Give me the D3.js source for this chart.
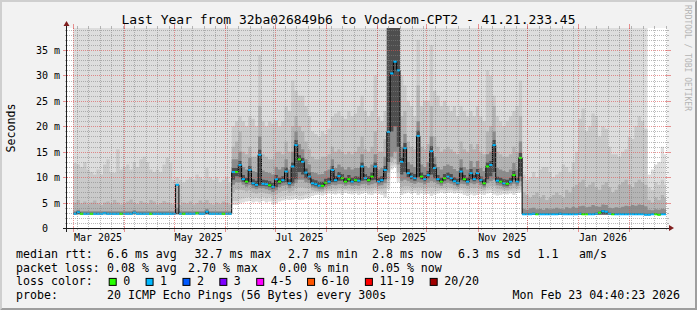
<!DOCTYPE html>
<html>
<head>
<meta charset="utf-8">
<script src="https://cdn.jsdelivr.net/npm/d3@7"></script>
<style>
  html, body { margin: 0; padding: 0; background: #f2f2f2; }
  svg { display: block; }
  text { font-family: "DejaVu Sans Mono", monospace; }
</style>
</head>
<body>
<div id="chart"></div>
<script>
"use strict";

// ---- data: one value per 2-day bin, first bin starts 1 Mar 2025 (180 bins) ----
const firstBin = new Date(2025, 2, 1);
const binDays = 2;

// median rtt in ms
const medianMs = [
  // Mar - May
  2.8,3.1,2.8,2.8,2.8,2.8,2.8,2.8,2.8,2.9,
  2.8,2.8,2.8,2.8,2.8,2.8,2.8,2.8,3.0,2.8,
  2.8,2.8,2.8,2.8,2.8,2.8,2.8,2.8,2.8,2.8,
  2.8,8.5,2.8,2.8,2.8,2.8,2.8,2.9,2.8,2.8,
  3.2,2.8,2.8,2.8,2.8,2.8,2.8,2.8,
  // Jun - Nov
  11.0,11.0,12.4,9.6,9.1,11.4,8.8,8.5,14.4,8.7,
  8.6,8.4,8.1,9.6,9.1,9.4,11.1,8.8,12.1,16.3,
  13.5,13.0,10.9,10.1,8.8,8.6,8.3,8.3,8.9,9.1,
  11.4,9.4,10.2,9.8,9.1,9.6,9.1,9.4,9.3,12.1,
  9.8,9.4,10.1,12.1,9.1,9.4,11.4,18.9,30.4,32.7,
  31.0,13.0,15.7,10.8,10.1,9.8,18.1,10.1,9.6,10.4,
  15.1,11.8,9.6,9.1,9.8,10.1,9.8,9.2,8.9,11.1,
  9.6,9.1,10.8,9.6,10.8,9.4,8.8,12.1,12.4,16.3,
  9.3,9.1,8.8,8.7,9.1,10.4,9.1,13.8,
  // Dec - Feb
  2.7,2.7,2.7,2.8,2.7,2.7,2.7,2.7,2.7,2.7,
  2.7,2.8,2.7,2.7,2.7,2.7,2.7,2.8,2.7,2.7,
  2.7,2.7,2.8,3.0,3.3,3.2,2.8,2.7,2.7,2.7,
  2.7,2.7,2.7,2.7,2.7,2.7,2.7,2.6,2.6,2.7,
  2.7,2.6,2.7,2.7
];

// pings lost (of 20) per bin
const lossPings = [
  1,1,0,1,1,0,1,1,1,1,
  1,1,1,1,0,1,1,1,1,1,
  1,1,1,0,1,1,1,1,1,1,
  1,1,1,0,1,1,1,0,1,1,
  1,1,1,1,1,0,1,1,
  1,0,1,1,0,1,1,1,1,1,
  1,0,1,1,0,1,1,1,1,1,
  0,1,1,1,1,1,1,0,0,1,
  1,1,1,0,0,0,1,0,1,1,
  1,0,0,1,1,1,1,1,1,1,
  1,1,1,1,1,1,1,0,1,1,
  1,1,1,0,0,1,1,1,1,1,
  0,1,1,1,1,1,0,0,1,1,
  1,0,1,0,1,0,1,0,
  1,1,1,1,0,1,1,1,1,1,
  1,1,1,1,1,1,1,1,0,0,
  1,1,1,0,1,1,1,0,1,1,
  1,1,1,1,1,1,1,1,1,1,
  0,0,1,1
];

// smoke: ping 1 / ping 20 (slowest values run off the top of the chart)
const pingMax = [
  40,40,40,40,40,40,40,40,40,40,
  40,40,40,40,40,40,40,40,40,40,
  40,40,40,40,40,40,40,40,40,40,
  40,40,40,40,40,40,40,40,40,40,
  40,40,40,40,40,40,40,40,
  40,40,40,40,40,40,40,40,40,40,
  40,40,40,40,40,40,40,40,40,40,
  40,40,40,40,40,40,40,40,40,40,
  40,40,40,40,40,40,40,40,40,40,
  40,40,40,40,40,40,40,40,40,40,
  40,40,40,40,40,40,40,40,40,40,
  40,40,40,40,40,40,40,40,40,40,
  40,40,40,40,40,40,40,40,40,40,
  40,40,40,40,40,40,40,40,
  40,40,40,40,40,40,40,40,40,40,
  40,40,40,40,40,40,40,40,40,40,
  40,40,40,40,40,40,40,40,40,40,
  40,40,40,40,40,40,40,40,10.5,11.5,
  12.5,13.0,16.0,14.5
];
const pingMin = [
  2.6,2.6,2.6,2.6,2.6,2.6,2.6,2.6,2.6,2.6,
  2.6,2.6,2.6,2.6,2.6,2.6,2.6,2.6,2.6,2.6,
  2.6,2.6,2.6,2.6,2.6,2.6,2.6,2.6,2.6,2.6,
  2.6,2.6,2.6,2.6,2.6,2.6,2.6,2.6,2.6,2.6,
  2.6,2.6,2.6,2.6,2.6,2.6,2.6,2.6,
  4.5,4.5,4.8,5.0,5.2,5.3,5.0,5.2,5.0,5.3,
  5.0,5.2,4.6,4.8,5.2,5.4,5.6,5.5,5.6,5.8,
  5.5,5.6,5.8,6.0,6.3,6.5,6.6,6.4,6.6,6.8,
  6.7,6.6,6.8,6.5,6.9,6.7,6.6,6.8,6.5,6.7,
  6.9,6.6,6.5,6.8,6.7,6.5,6.0,7.5,11.5,12.0,
  9.0,6.5,6.8,7.0,6.7,6.9,6.5,6.8,6.6,6.7,
  6.3,6.6,6.8,7.0,6.8,6.9,7.0,6.8,6.9,6.8,
  6.5,6.3,6.6,6.4,6.5,6.7,6.5,6.8,6.9,6.6,
  6.4,6.5,6.7,6.6,6.8,6.5,6.9,7.0,
  2.6,2.6,2.6,2.6,2.6,2.6,2.6,2.6,2.6,2.6,
  2.6,2.6,2.6,2.6,2.6,2.6,2.6,2.6,2.6,2.6,
  2.6,2.6,2.6,2.6,2.6,2.6,2.6,2.6,2.6,2.6,
  2.6,2.6,2.6,2.6,2.6,2.6,2.6,2.5,2.5,2.6,
  2.6,2.5,2.6,2.6
];

// smoke: ping 2 / ping 19
const ping2Hi = [
  12.8,12.5,12.0,13.0,11.5,11.0,10.5,11.5,10.5,12.5,
  13.5,11.0,10.8,15.5,11.5,12.0,12.5,11.5,13.0,12.0,
  13.5,14.0,13.0,11.5,11.0,11.5,11.0,12.5,13.8,13.0,
  9.5,10.0,9.5,9.0,9.5,10.0,9.5,10.5,10.0,9.5,
  11.8,10.0,9.5,10.0,9.0,9.5,10.0,9.0,
  20.0,21.0,22.0,21.0,20.0,22.0,21.5,20.0,34.0,21.0,
  20.0,21.0,20.5,21.0,20.0,21.0,24.0,23.0,29.0,27.0,
  26.0,26.0,24.0,22.0,19.0,18.5,18.0,19.0,18.5,19.5,
  22.0,22.5,23.0,22.0,21.5,23.0,22.0,22.5,24.0,26.0,
  23.0,22.0,23.0,30.0,22.0,21.0,23.0,40,40,40,
  40,30.0,28.0,25.0,24.0,22.0,37.0,24.0,25.0,25.0,
  36.0,27.0,26.0,24.0,25.0,24.0,23.0,24.0,22.0,24.0,
  23.0,22.0,23.0,22.0,24.0,22.0,21.0,31.0,30.0,26.0,
  22.0,21.0,20.0,21.0,22.0,23.0,24.0,29.0,
  10.5,9.5,10.0,11.0,10.0,11.5,12.0,12.0,11.0,10.0,
  10.5,11.0,12.5,12.0,11.0,13.0,15.0,21.5,23.5,19.0,
  20.0,22.5,22.0,18.0,20.0,19.5,16.0,14.5,14.5,14.0,
  15.0,15.5,18.0,17.5,20.0,22.0,21.0,19.5,8.0,7.5,
  9.0,8.5,9.5,8.5
];
const ping2Lo = [
  2.7,2.7,2.7,2.7,2.7,2.7,2.7,2.7,2.7,2.7,
  2.7,2.7,2.7,2.7,2.7,2.7,2.7,2.7,2.7,2.7,
  2.7,2.7,2.7,2.7,2.7,2.7,2.7,2.7,2.7,2.7,
  2.7,2.7,2.7,2.7,2.7,2.7,2.7,2.7,2.7,2.7,
  2.7,2.7,2.7,2.7,2.7,2.7,2.7,2.7,
  5.3,5.3,5.6,5.8,6.0,6.1,5.8,6.0,5.8,6.1,
  5.8,6.0,5.4,5.6,6.0,6.2,6.4,6.3,6.4,6.6,
  6.3,6.4,6.6,6.8,7.0,7.1,7.1,7.0,7.2,7.3,
  7.3,7.2,7.4,7.2,7.4,7.3,7.2,7.3,7.2,7.3,
  7.4,7.2,7.2,7.4,7.3,7.2,6.8,8.3,12.3,12.5,
  9.8,7.2,7.4,7.5,7.3,7.4,7.2,7.4,7.2,7.3,
  7.0,7.2,7.3,7.5,7.4,7.4,7.5,7.3,7.4,7.4,
  7.2,7.0,7.2,7.1,7.2,7.3,7.2,7.4,7.5,7.3,
  7.1,7.2,7.3,7.2,7.3,7.2,7.4,7.5,
  2.6,2.6,2.6,2.6,2.6,2.6,2.6,2.6,2.6,2.6,
  2.6,2.6,2.6,2.6,2.6,2.6,2.6,2.6,2.6,2.6,
  2.6,2.6,2.6,2.6,2.6,2.6,2.6,2.6,2.6,2.6,
  2.6,2.6,2.6,2.6,2.6,2.6,2.6,2.6,2.6,2.6,
  2.6,2.6,2.6,2.6
];

// smoke: ping 4 / ping 17
const ping3Hi = [
  5.0,5.5,4.8,5.2,4.6,5.0,5.4,4.8,4.5,5.0,
  5.2,4.8,5.5,5.0,4.6,4.8,5.2,5.6,5.0,4.7,
  5.3,5.0,4.8,5.5,5.2,4.6,4.9,5.3,5.0,4.8,
  4.6,8.6,4.5,5.0,4.8,5.2,4.6,4.9,5.4,5.0,
  5.5,4.8,4.6,5.0,4.7,5.2,4.9,4.6,
  16.0,17.0,19.0,15.0,14.5,16.0,14.0,14.0,24.0,14.5,
  14.0,13.5,13.5,15.0,15.0,14.5,17.0,15.0,20.0,22.0,
  20.0,19.0,17.0,15.5,14.0,13.5,13.5,14.0,14.0,14.5,
  16.0,15.0,15.5,15.0,14.5,15.0,14.5,15.0,16.0,18.0,
  15.5,15.0,16.0,19.0,15.0,15.0,17.5,40,40,40,
  40,22.0,23.0,17.0,16.0,15.5,28.0,16.0,15.5,16.5,
  24.0,18.0,16.0,15.0,15.5,16.0,15.5,15.0,14.5,17.0,
  15.5,15.0,16.5,15.5,16.5,15.0,14.5,19.0,20.0,24.0,
  15.0,14.5,14.0,14.0,14.5,16.0,15.0,22.0,
  7.0,6.5,6.0,6.5,7.0,6.0,6.5,5.5,6.0,6.5,
  7.0,6.5,6.0,7.5,7.0,8.0,8.5,9.0,9.5,8.0,
  8.5,9.0,8.0,7.5,8.5,9.0,8.0,7.0,7.5,8.5,
  9.0,9.5,8.5,8.0,9.0,9.5,9.0,8.5,5.5,5.0,
  6.0,5.5,6.5,6.0
];
const ping3Lo = [
  2.7,2.7,2.7,2.7,2.7,2.7,2.7,2.7,2.7,2.7,
  2.7,2.7,2.7,2.7,2.7,2.7,2.7,2.7,2.7,2.7,
  2.7,2.7,2.7,2.7,2.7,2.7,2.7,2.7,2.7,2.7,
  2.7,2.7,2.7,2.7,2.7,2.7,2.7,2.7,2.7,2.7,
  2.7,2.7,2.7,2.7,2.7,2.7,2.7,2.7,
  7.0,7.5,7.5,7.4,7.2,7.4,7.0,6.8,7.0,7.0,
  6.8,6.7,6.4,6.6,7.0,7.3,7.4,7.0,7.3,7.8,
  8.0,8.0,7.8,7.8,7.4,7.3,7.2,7.2,7.5,7.6,
  7.8,7.7,7.9,7.8,7.7,7.8,7.6,7.7,7.6,7.9,
  7.9,7.7,7.8,8.0,7.7,7.7,7.8,9.5,13.0,13.5,
  11.0,8.0,8.2,8.2,8.0,7.9,8.0,8.0,7.8,8.0,
  8.0,8.0,7.9,7.8,7.9,8.0,7.9,7.7,7.6,7.9,
  7.8,7.6,7.9,7.8,7.9,7.7,7.5,8.0,8.2,8.2,
  7.7,7.6,7.5,7.4,7.6,7.8,7.7,8.2,
  2.65,2.65,2.65,2.65,2.65,2.65,2.65,2.65,2.65,2.65,
  2.65,2.65,2.65,2.65,2.65,2.65,2.65,2.65,2.65,2.65,
  2.65,2.65,2.65,2.65,2.65,2.65,2.65,2.65,2.65,2.65,
  2.65,2.65,2.65,2.65,2.65,2.65,2.65,2.65,2.65,2.65,
  2.65,2.65,2.65,2.65
];

// smoke: ping 7 / ping 14
const ping4Hi = [
  3.3,3.6,3.3,3.3,3.3,3.3,3.3,3.3,3.3,3.3,
  3.3,3.3,3.3,3.3,3.3,3.3,3.3,3.3,3.5,3.3,
  3.3,3.3,3.3,3.3,3.3,3.3,3.3,3.3,3.3,3.3,
  3.3,4.0,3.3,3.3,3.3,3.3,3.3,3.3,3.3,3.3,
  3.8,3.3,3.3,3.3,3.3,3.3,3.3,3.3,
  13.5,13.5,15.0,12.0,11.5,13.8,11.2,11.0,18.0,11.3,
  11.0,10.8,10.5,12.0,11.5,12.0,13.5,11.5,15.0,19.0,
  16.5,15.5,13.5,12.5,11.0,10.8,10.5,10.6,11.2,11.5,
  13.5,11.8,12.5,12.0,11.5,12.0,11.5,11.8,11.8,14.5,
  12.2,11.8,12.5,14.5,11.5,11.8,14.0,40,40,40,
  40,16.0,18.5,13.0,12.5,12.0,21.0,12.5,12.0,13.0,
  18.0,14.0,12.0,11.5,12.2,12.5,12.2,11.6,11.2,13.5,
  12.0,11.5,13.2,12.0,13.2,11.8,11.2,14.5,15.0,19.0,
  11.8,11.5,11.2,11.0,11.5,12.8,11.5,17.0,
  3.8,3.6,3.9,4.0,3.7,3.8,3.6,3.9,3.7,3.8,
  4.0,3.8,3.7,4.1,3.9,4.2,4.0,4.3,4.4,4.1,
  4.2,4.5,4.3,4.2,4.6,4.5,4.0,3.9,4.1,4.0,
  4.2,4.4,4.3,4.5,4.4,4.6,4.5,4.3,3.6,3.5,
  3.7,3.6,3.8,3.7
];
const ping4Lo = [
  2.7,2.7,2.7,2.7,2.7,2.7,2.7,2.7,2.7,2.7,
  2.7,2.7,2.7,2.7,2.7,2.7,2.7,2.7,2.7,2.7,
  2.7,2.7,2.7,2.7,2.7,2.7,2.7,2.7,2.7,2.7,
  2.7,2.7,2.7,2.7,2.7,2.7,2.7,2.7,2.7,2.7,
  2.7,2.7,2.7,2.7,2.7,2.7,2.7,2.7,
  8.5,9.0,9.0,8.5,8.1,8.4,7.8,7.6,7.8,7.8,
  7.6,7.4,7.1,7.4,8.0,8.3,8.4,7.8,8.2,8.8,
  9.5,9.5,9.0,8.8,8.0,7.8,7.6,7.6,8.0,8.2,
  8.5,8.4,8.6,8.6,8.3,8.5,8.3,8.4,8.3,8.6,
  8.7,8.4,8.6,8.8,8.3,8.4,8.8,11.0,14.0,15.0,
  12.5,9.2,9.5,9.2,8.9,8.7,9.0,8.9,8.6,8.9,
  9.2,9.0,8.6,8.3,8.7,8.9,8.7,8.4,8.1,8.7,
  8.6,8.3,8.8,8.6,8.8,8.4,8.0,8.8,9.2,9.5,
  8.4,8.3,8.0,7.9,8.3,8.7,8.3,9.2,
  2.65,2.65,2.65,2.65,2.65,2.65,2.65,2.65,2.65,2.65,
  2.65,2.65,2.65,2.65,2.65,2.65,2.65,2.65,2.65,2.65,
  2.65,2.65,2.65,2.65,2.65,2.65,2.65,2.65,2.65,2.65,
  2.65,2.65,2.65,2.65,2.65,2.65,2.65,2.65,2.65,2.65,
  2.65,2.65,2.65,2.65
];

// smoke: ping 9 / ping 12
const ping5Hi = [
  3.0,3.3,3.0,3.0,3.0,3.0,3.0,3.0,3.0,3.05,
  3.0,3.0,3.0,3.0,3.0,3.0,3.0,3.0,3.2,3.0,
  3.0,3.0,3.0,3.0,3.0,3.0,3.0,3.0,3.0,3.0,
  3.0,3.0,3.0,3.0,3.0,3.0,3.0,3.05,3.0,3.0,
  3.4,3.0,3.0,3.0,3.0,3.0,3.0,3.0,
  11.8,11.8,13.2,10.4,9.9,12.2,9.6,9.3,15.4,9.5,
  9.4,9.2,8.9,10.4,9.9,10.2,11.9,9.6,12.9,17.3,
  14.3,13.8,11.7,10.9,9.6,9.4,9.1,9.1,9.7,9.9,
  12.2,10.2,11.0,10.6,9.9,10.4,9.9,10.2,10.1,12.9,
  10.6,10.2,10.9,12.9,9.9,10.2,12.2,40,40,40,
  40,13.8,16.7,11.6,10.9,10.6,19.1,10.9,10.4,11.2,
  16.1,12.6,10.4,9.9,10.6,10.9,10.6,10.0,9.7,11.9,
  10.4,9.9,11.6,10.4,11.6,10.2,9.6,12.9,13.2,17.3,
  10.1,9.9,9.6,9.5,9.9,11.2,9.9,14.8,
  2.9,2.9,2.9,3.0,2.9,2.9,2.9,2.9,2.9,2.9,
  2.9,3.0,2.9,2.9,2.9,2.9,2.9,3.0,2.9,2.9,
  2.9,2.9,3.0,3.2,3.5,3.4,3.0,2.9,2.9,2.9,
  2.9,2.9,2.9,2.9,2.9,2.9,2.9,2.8,2.8,2.9,
  2.9,2.8,2.9,2.9
];
const ping5Lo = [
  2.75,2.75,2.75,2.75,2.75,2.75,2.75,2.75,2.75,2.75,
  2.75,2.75,2.75,2.75,2.75,2.75,2.75,2.75,2.75,2.75,
  2.75,2.75,2.75,2.75,2.75,2.75,2.75,2.75,2.75,2.75,
  2.75,2.75,2.75,2.75,2.75,2.75,2.75,2.75,2.75,2.75,
  2.75,2.75,2.75,2.75,2.75,2.75,2.75,2.75,
  9.5,10.2,10.0,9.1,8.7,9.0,8.4,8.1,8.3,8.3,
  8.2,8.0,7.7,8.0,8.6,8.9,9.0,8.4,8.8,9.6,
  11.0,10.5,9.8,9.5,8.4,8.2,8.0,8.0,8.5,8.7,
  9.0,9.0,9.3,9.3,8.8,9.1,8.8,9.0,8.9,9.3,
  9.4,9.0,9.4,9.5,8.8,9.0,9.6,13.0,19.0,20.0,
  16.0,10.5,11.0,10.0,9.6,9.3,10.0,9.6,9.2,9.8,
  10.5,9.8,9.2,8.8,9.3,9.6,9.3,8.9,8.5,9.4,
  9.2,8.8,9.6,9.2,9.6,9.0,8.4,9.6,10.2,11.0,
  8.9,8.8,8.4,8.3,8.8,9.5,8.8,10.2,
  2.65,2.65,2.65,2.65,2.65,2.65,2.65,2.65,2.65,2.65,
  2.65,2.65,2.65,2.65,2.65,2.65,2.65,2.65,2.65,2.65,
  2.65,2.65,2.65,2.65,2.65,2.65,2.65,2.65,2.65,2.65,
  2.65,2.65,2.65,2.65,2.65,2.65,2.65,2.65,2.65,2.65,
  2.65,2.65,2.65,2.65
];

// axis ticks and labels
const yTicks = [0, 5, 10, 15, 20, 25, 30, 35];
const yTickLabels = ["0", "5 m", "10 m", "15 m", "20 m", "25 m", "30 m", "35 m"];
const xTickMonths = [new Date(2025, 2, 1), new Date(2025, 4, 1), new Date(2025, 6, 1),
                     new Date(2025, 8, 1), new Date(2025, 10, 1), new Date(2026, 0, 1)];
const xTickLabels = ["Mar 2025", "May 2025", "Jul 2025", "Sep 2025", "Nov 2025", "Jan 2026"];

// loss colour legend
const lossThresholds = [0, 1, 2, 3, 5, 10, 19, 20];
const lossLabels = ["0", "1", "2", "3", "4-5", "6-10", "11-19", "20/20"];
const lossColors = ["#26ff00", "#00b8ff", "#0059ff", "#7e00ff", "#ff00ff", "#ff5500", "#ff0000", "#a10000"];

// legend texts
const titleText = "Last Year from 32ba026849b6 to Vodacom-CPT2 - 41.21.233.45";
const rttLegend = ["median rtt:", "6.6 ms avg", "32.7 ms max", "2.7 ms min", "2.8 ms now", "6.3 ms sd", "1.1", "am/s"];
const lossLegend = ["packet loss:", "0.08 % avg", "2.70 % max", "0.00 % min", "0.05 % now"];
const probeLegend = ["probe:", "20 ICMP Echo Pings (56 Bytes) every 300s"];
const stampText = "Mon Feb 23 04:40:23 2026";

// ---- layout ----
const msm = { width: 697, height: 310, left: 67, top: 28, plotW: 600, plotH: 200 };
const tStart = new Date(2025, 1, 25, 4, 20);
const tEnd = new Date(2026, 1, 23, 4, 40, 23);
const smokeColors = ["#dddddd", "#cacaca", "#b4b4b4", "#8c8c8c", "#4e4e4e"];
const gridMinor = "rgba(130,130,130,0.55)";
const gridMajor = "rgba(222,79,79,0.6)";

window.onload = function () {
  const all = [medianMs, lossPings, pingMax, pingMin, ping2Hi, ping2Lo, ping3Hi, ping3Lo, ping4Hi, ping4Lo, ping5Hi, ping5Lo];
  all.forEach((a, i) => { if (a.length !== 180) throw new Error("array " + i + " has " + a.length); });

  const svg = d3.select("#chart").append("svg")
    .attr("width", msm.width)
    .attr("height", msm.height);

  // background + 3d border
  svg.append("rect").attr("width", msm.width).attr("height", msm.height).attr("fill", "#f2f2f2");
  svg.append("path").attr("fill", "#cfcfcf")
    .attr("d", `M0,${msm.height}L2,${msm.height - 2}L2,2L${msm.width - 2},2L${msm.width},0L0,0Z`);
  svg.append("path").attr("fill", "#9e9e9e")
    .attr("d", `M2,${msm.height - 2}L${msm.width - 2},${msm.height - 2}L${msm.width - 2},2L${msm.width},0L${msm.width},${msm.height}L0,${msm.height}Z`);

  // canvas
  svg.append("rect")
    .attr("x", msm.left).attr("y", msm.top)
    .attr("width", msm.plotW).attr("height", msm.plotH)
    .attr("fill", "#ffffff");

  const xScale = d3.scaleTime().domain([tStart, tEnd]).range([msm.left, 666]);
  const yScale = d3.scaleLinear().domain([0, 39.33]).range([msm.top + msm.plotH, msm.top]);

  svg.append("clipPath").attr("id", "plotclip")
    .append("rect").attr("x", msm.left).attr("y", msm.top)
    .attr("width", 666 - msm.left).attr("height", msm.plotH);

  const rows = medianMs.map((m, k) => ({
    t0: d3.timeDay.offset(firstBin, k * binDays),
    t1: d3.timeDay.offset(firstBin, (k + 1) * binDays),
    med: m,
    loss: lossPings[k],
    lo: [pingMin[k], ping2Lo[k], ping3Lo[k], ping4Lo[k], ping5Lo[k]],
    hi: [pingMax[k], ping2Hi[k], ping3Hi[k], ping4Hi[k], ping5Hi[k]]
  }));
  const last = rows[rows.length - 1];
  const stepPts = rows.map(r => ({ t: r.t0, r: r })).concat([{ t: last.t1, r: last }]);

  const gData = svg.append("g").attr("clip-path", "url(#plotclip)");

  // smoke layers, outermost first
  smokeColors.forEach((c, i) => {
    const area = d3.area().curve(d3.curveStepAfter)
      .x(p => xScale(p.t))
      .y0(p => yScale(p.r.lo[i]))
      .y1(p => yScale(p.r.hi[i]));
    gData.append("path").attr("d", area(stepPts)).attr("fill", c);
  });

  // grid (drawn over the smoke)
  const gGrid = svg.append("g").attr("stroke-dasharray", "1,1").attr("stroke-width", 1);
  const snap = v => Math.round(v) + 0.5;
  d3.range(1, 40).filter(v => v % 5 !== 0).forEach(v => {
    const yy = snap(yScale(v));
    if (yy < msm.top) return;
    gGrid.append("line").attr("x1", msm.left).attr("x2", msm.left + msm.plotW)
      .attr("y1", yy).attr("y2", yy).attr("stroke", gridMinor);
  });
  const weeks = d3.timeMonday.range(tStart, tEnd);
  const months = d3.timeMonth.range(tStart, tEnd);
  weeks.forEach(t => {
    const xx = snap(xScale(t));
    gGrid.append("line").attr("x1", xx).attr("x2", xx)
      .attr("y1", msm.top).attr("y2", msm.top + msm.plotH).attr("stroke", gridMinor);
  });
  yTicks.filter(v => v > 0).forEach(v => {
    const yy = snap(yScale(v));
    gGrid.append("line").attr("x1", msm.left).attr("x2", msm.left + msm.plotW)
      .attr("y1", yy).attr("y2", yy).attr("stroke", gridMajor);
  });
  months.forEach(t => {
    const xx = snap(xScale(t));
    gGrid.append("line").attr("x1", xx).attr("x2", xx)
      .attr("y1", msm.top).attr("y2", msm.top + msm.plotH).attr("stroke", gridMajor);
  });

  // little solid stubs outside the canvas
  const gStub = svg.append("g").attr("stroke-width", 1);
  d3.range(1, 40).filter(v => v % 5 !== 0).forEach(v => {
    const yy = snap(yScale(v));
    if (yy < msm.top) return;
    gStub.append("line").attr("x1", msm.left - 2).attr("x2", msm.left).attr("y1", yy).attr("y2", yy).attr("stroke", gridMinor);
    gStub.append("line").attr("x1", msm.left + msm.plotW).attr("x2", msm.left + msm.plotW + 2).attr("y1", yy).attr("y2", yy).attr("stroke", gridMinor);
  });
  yTicks.filter(v => v > 0).forEach(v => {
    const yy = snap(yScale(v));
    gStub.append("line").attr("x1", msm.left - 4).attr("x2", msm.left + 1).attr("y1", yy).attr("y2", yy).attr("stroke", gridMajor);
    gStub.append("line").attr("x1", msm.left + msm.plotW - 1).attr("x2", msm.left + msm.plotW + 4).attr("y1", yy).attr("y2", yy).attr("stroke", gridMajor);
  });
  weeks.forEach(t => {
    const xx = snap(xScale(t));
    gStub.append("line").attr("x1", xx).attr("x2", xx).attr("y1", msm.top + msm.plotH).attr("y2", msm.top + msm.plotH + 2).attr("stroke", gridMinor);
    gStub.append("line").attr("x1", xx).attr("x2", xx).attr("y1", msm.top - 2).attr("y2", msm.top).attr("stroke", gridMinor);
  });
  months.forEach(t => {
    const xx = snap(xScale(t));
    gStub.append("line").attr("x1", xx).attr("x2", xx).attr("y1", msm.top + msm.plotH - 1).attr("y2", msm.top + msm.plotH + 4).attr("stroke", gridMajor);
    gStub.append("line").attr("x1", xx).attr("x2", xx).attr("y1", msm.top - 4).attr("y2", msm.top + 1).attr("stroke", gridMajor);
  });

  // median line: dark steps + loss coloured segments
  const medLine = d3.line().curve(d3.curveStepAfter)
    .x(p => xScale(p.t))
    .y(p => yScale(p.r.med));
  gData.append("path").attr("d", medLine(stepPts))
    .attr("fill", "none").attr("stroke", "#000").attr("stroke-width", 1);

  const bucket = n => {
    for (let i = 0; i < lossThresholds.length; i++) if (n <= lossThresholds[i]) return i;
    return lossThresholds.length - 1;
  };
  gData.selectAll(".loss")
    .data(rows)
    .enter()
    .append("line")
    .attr("class", "loss")
    .attr("x1", r => xScale(r.t0))
    .attr("x2", r => xScale(r.t1))
    .attr("y1", r => yScale(r.med))
    .attr("y2", r => yScale(r.med))
    .attr("stroke", r => lossColors[bucket(r.loss)])
    .attr("stroke-width", 2);

  // axes
  const axisCol = "#1f1f1f";
  const arrowCol = "#801f1f";
  const y0 = msm.top + msm.plotH + 0.5;
  svg.append("line").attr("x1", msm.left - 4).attr("x2", msm.left + msm.plotW + 4)
    .attr("y1", y0).attr("y2", y0).attr("stroke", axisCol);
  svg.append("line").attr("x1", msm.left - 0.5).attr("x2", msm.left - 0.5)
    .attr("y1", msm.top + msm.plotH + 4).attr("y2", msm.top - 4).attr("stroke", axisCol);
  svg.append("path").attr("fill", arrowCol)
    .attr("d", `M${msm.left + msm.plotW + 2},${msm.top + msm.plotH - 3}L${msm.left + msm.plotW + 2},${msm.top + msm.plotH + 3}L${msm.left + msm.plotW + 7},${msm.top + msm.plotH}Z`);
  svg.append("path").attr("fill", arrowCol)
    .attr("d", `M${msm.left - 3.5},${msm.top - 2}L${msm.left + 2.5},${msm.top - 2}L${msm.left - 0.5},${msm.top - 7}Z`);

  // y tick labels
  svg.selectAll(".ylab")
    .data(yTicks)
    .enter()
    .append("text")
    .attr("class", "ylab")
    .attr("x", 60)
    .attr("y", v => yScale(v) + 4)
    .attr("text-anchor", "end")
    .style("font-size", "10px")
    .attr("fill", "#000")
    .text((v, i) => yTickLabels[i].indexOf(" ") < 0 ? yTickLabels[i] + "\u00a0\u00a0" : yTickLabels[i]);

  // x tick labels, centred on the middle of the month
  svg.selectAll(".xlab")
    .data(xTickMonths)
    .enter()
    .append("text")
    .attr("class", "xlab")
    .attr("x", t => xScale(d3.timeDay.offset(t, 15)))
    .attr("y", 241)
    .attr("text-anchor", "middle")
    .style("font-size", "10px")
    .text((t, i) => xTickLabels[i]);

  // title and axis label
  svg.append("text")
    .attr("x", msm.width / 2)
    .attr("y", 24)
    .attr("text-anchor", "middle")
    .style("font-size", "13px")
    .text(titleText);

  svg.append("text")
    .attr("transform", "translate(14.5, 128)rotate(-90)")
    .attr("text-anchor", "middle")
    .style("font-size", "11.6px")
    .text("Seconds");

  // watermark
  svg.append("text")
    .attr("transform", "translate(685, 5)rotate(90)")
    .style("font-size", "8px")
    .attr("fill", "#b4b4b4")
    .text("RRDTOOL / TOBI OETIKER");

  // legend
  const legFont = "11.6px";
  const rttX = [16, 107, 194.5, 288, 372, 458, 537.5, 579];
  const lossX = [16, 107, 188, 279, 372];
  const legRows = [258.2, 271.8, 285.4, 299];
  const gLeg = svg.append("g").style("font-size", legFont);

  rttLegend.forEach((s, i) => gLeg.append("text").attr("x", rttX[i]).attr("y", legRows[0]).text(s));
  lossLegend.forEach((s, i) => gLeg.append("text").attr("x", lossX[i]).attr("y", legRows[1]).text(s));

  gLeg.append("text").attr("x", 16).attr("y", legRows[2]).text("loss color:");
  const charW = 6.98;
  let bx = 108.7;
  lossLabels.forEach((lab, i) => {
    gLeg.append("rect")
      .attr("x", bx + 0.5).attr("y", legRows[2] - 7)
      .attr("width", 7).attr("height", 7)
      .attr("fill", lossColors[i])
      .attr("stroke", "#000").attr("stroke-width", 1);
    gLeg.append("text").attr("x", bx + 14.5).attr("y", legRows[2]).text(lab);
    bx = bx + 14.5 + lab.length * charW + 15.4;
  });

  gLeg.append("text").attr("x", 16).attr("y", legRows[3]).text(probeLegend[0]);
  gLeg.append("text").attr("x", 107).attr("y", legRows[3]).text(probeLegend[1]);
  gLeg.append("text").attr("x", 512.5).attr("y", legRows[3]).text(stampText);
};
</script>
</body>
</html>
